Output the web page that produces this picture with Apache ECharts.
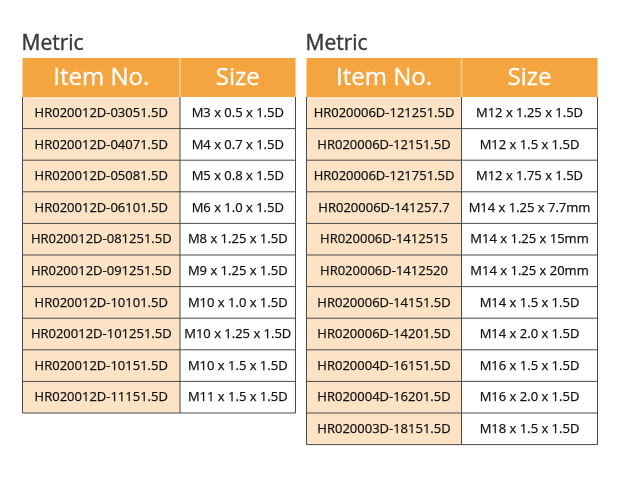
<!DOCTYPE html>
<html><head><meta charset="utf-8">
<script src="https://cdn.jsdelivr.net/npm/echarts@6/dist/echarts.min.js"></script>
<style>html,body{margin:0;padding:0;background:#fff}#c{width:620px;height:478px}</style>
</head><body><div id="c"></div>
<script>
const titleText = "Metric";
const headers = ["Item No.", "Size"];
const leftItems = ["HR020012D-03051.5D","HR020012D-04071.5D","HR020012D-05081.5D","HR020012D-06101.5D","HR020012D-081251.5D","HR020012D-091251.5D","HR020012D-10101.5D","HR020012D-101251.5D","HR020012D-10151.5D","HR020012D-11151.5D"];
const leftSizes = ["M3 x 0.5 x 1.5D","M4 x 0.7 x 1.5D","M5 x 0.8 x 1.5D","M6 x 1.0 x 1.5D","M8 x 1.25 x 1.5D","M9 x 1.25 x 1.5D","M10 x 1.0 x 1.5D","M10 x 1.25 x 1.5D","M10 x 1.5 x 1.5D","M11 x 1.5 x 1.5D"];
const rightItems = ["HR020006D-121251.5D","HR020006D-12151.5D","HR020006D-121751.5D","HR020006D-141257.7","HR020006D-1412515","HR020006D-1412520","HR020006D-14151.5D","HR020006D-14201.5D","HR020004D-16151.5D","HR020004D-16201.5D","HR020003D-18151.5D"];
const rightSizes = ["M12 x 1.25 x 1.5D","M12 x 1.5 x 1.5D","M12 x 1.75 x 1.5D","M14 x 1.25 x 7.7mm","M14 x 1.25 x 15mm","M14 x 1.25 x 20mm","M14 x 1.5 x 1.5D","M14 x 2.0 x 1.5D","M16 x 1.5 x 1.5D","M16 x 2.0 x 1.5D","M18 x 1.5 x 1.5D"];

const FONT = "'Open Sans', 'Noto Sans', sans-serif";
const ORANGE = "#F5A540", PEACH = "#FCE3C6", LINE = "#4a4a4a", TXT = "#111";
const HEAD_TOP = 58, HEAD_BOT = 97, ROW_H = 31.6;

function table(x0, x1, x2, items, sizes) {
  const els = [];
  const n = items.length;
  const bot = HEAD_BOT + n * ROW_H;
  els.push({type:'text', style:{text:titleText, x:x0 - 1, y:HEAD_TOP - 3, fill:'#383838', stroke:'#383838', lineWidth:0.4, font:"21px " + FONT, textAlign:'left', textVerticalAlign:'bottom'}});
  els.push({type:'rect', shape:{x:x0, y:HEAD_TOP, width:x2-x0, height:HEAD_BOT-HEAD_TOP}, style:{fill:ORANGE}});
  els.push({type:'line', shape:{x1:x1, y1:HEAD_TOP, x2:x1, y2:HEAD_BOT}, style:{stroke:'#FBD49B', lineWidth:1.5}});
  els.push({type:'text', style:{text:headers[0], x:(x0+x1)/2, y:(HEAD_TOP+HEAD_BOT)/2+1, fill:'#fff', stroke:'#fff', lineWidth:0.3, font:"24px " + FONT, textAlign:'center', textVerticalAlign:'middle'}});
  els.push({type:'text', style:{text:headers[1], x:(x1+x2)/2, y:(HEAD_TOP+HEAD_BOT)/2+1, fill:'#fff', stroke:'#fff', lineWidth:0.3, font:"24px " + FONT, textAlign:'center', textVerticalAlign:'middle'}});
  els.push({type:'rect', shape:{x:x0, y:HEAD_BOT, width:x1-x0, height:bot-HEAD_BOT}, style:{fill:PEACH}});
  for (let i = 0; i < n; i++) {
    const yc = HEAD_BOT + (i + 0.5) * ROW_H + 0.5;
    els.push({type:'text', style:{text:items[i], x:(x0+x1)/2, y:yc, fill:TXT, stroke:TXT, lineWidth:0.25, font:"13px " + FONT, textAlign:'center', textVerticalAlign:'middle'}});
    els.push({type:'text', style:{text:sizes[i], x:(x1+x2)/2, y:yc, fill:TXT, stroke:TXT, lineWidth:0.25, font:"13px " + FONT, textAlign:'center', textVerticalAlign:'middle'}});
    const yl = HEAD_BOT + (i + 1) * ROW_H;
    els.push({type:'line', shape:{x1:x0, y1:yl, x2:x2, y2:yl}, style:{stroke:LINE, lineWidth:1}});
  }
  els.push({type:'line', shape:{x1:x0, y1:HEAD_BOT, x2:x0, y2:bot}, style:{stroke:LINE, lineWidth:1}});
  els.push({type:'line', shape:{x1:x1, y1:HEAD_BOT, x2:x1, y2:bot}, style:{stroke:LINE, lineWidth:1}});
  els.push({type:'line', shape:{x1:x2, y1:HEAD_BOT, x2:x2, y2:bot}, style:{stroke:LINE, lineWidth:1}});
  return els;
}

const chart = echarts.init(document.getElementById('c'), null, {renderer:'canvas'});
chart.setOption({
  backgroundColor:'#fff',
  animation:false,
  graphic:{elements:[].concat(
    table(22.5, 180, 295.5, leftItems, leftSizes),
    table(306.5, 461.5, 597.5, rightItems, rightSizes)
  )}
});
</script></body></html>
